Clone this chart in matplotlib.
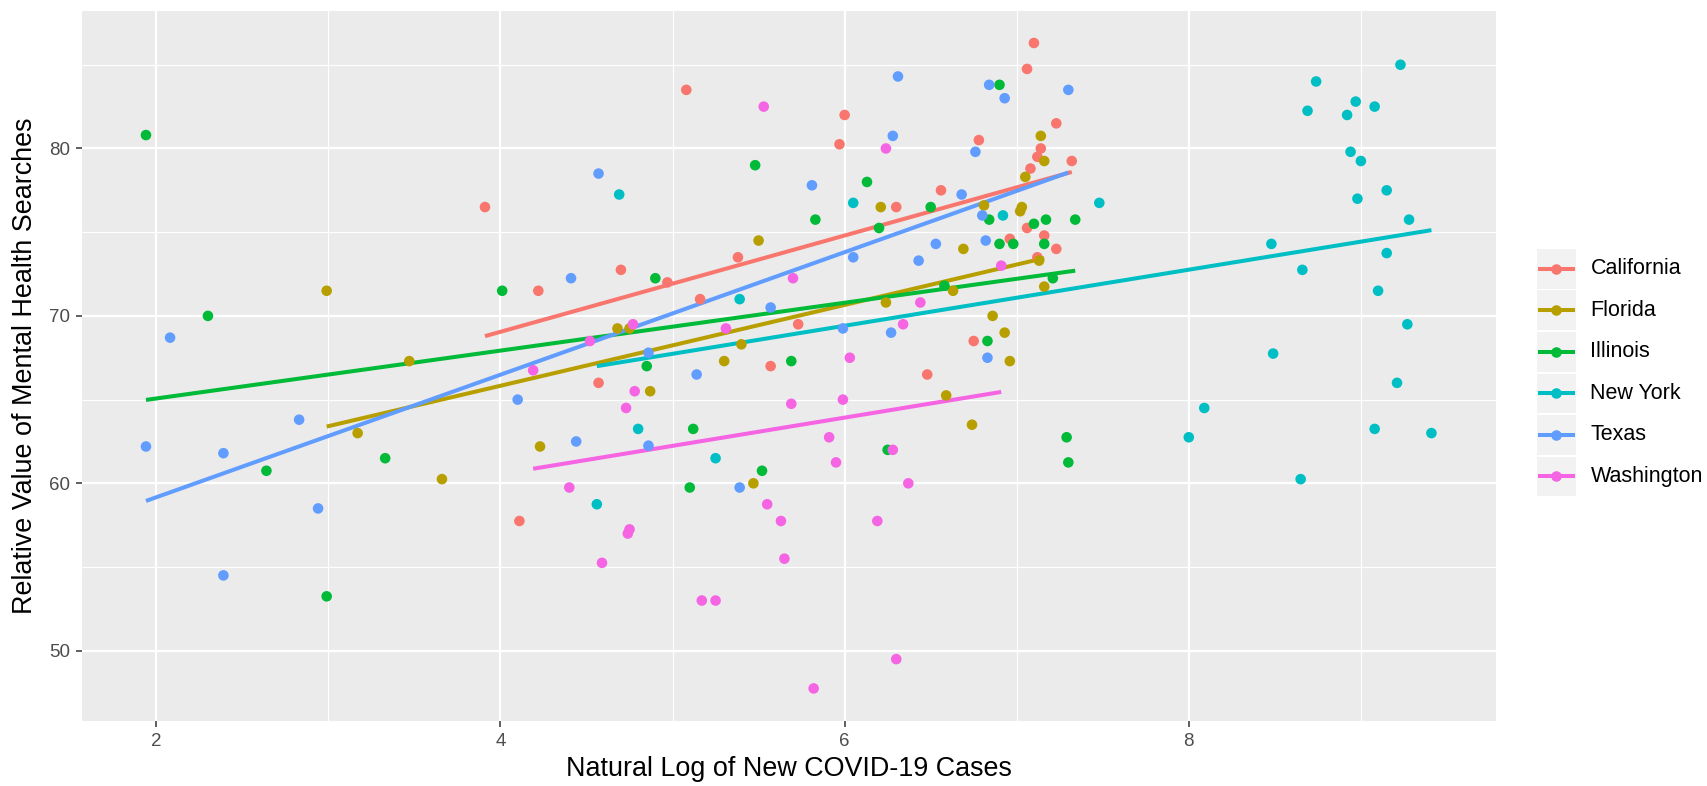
import numpy as np
import matplotlib
matplotlib.use("Agg")
import matplotlib.pyplot as plt
from matplotlib.lines import Line2D
from matplotlib.patches import Rectangle

plt.rcParams['font.family'] = ['Liberation Sans', 'DejaVu Sans']

states = ["California", "Florida", "Illinois", "New York", "Texas", "Washington"]
colors = ["#F8766D", "#B79F00", "#00BA38", "#00BFC4", "#619CFF", "#F564E3"]

california_x = [3.91, 4.22, 4.11, 5.08, 6.00, 6.78, 5.97, 6.56, 6.30, 6.96, 5.38, 4.70, 4.97, 5.16, 5.73,
                6.75, 5.57, 4.57, 6.48, 7.10, 7.06, 7.23, 7.14, 7.12, 7.32, 7.08, 7.06, 7.16, 7.23, 7.12]
california_y = [76.5, 71.5, 57.75, 83.5, 82.0, 80.5, 80.25, 77.5, 76.5, 74.6, 73.5, 72.75, 72.0, 71.0, 69.5,
                68.5, 67.0, 66.0, 66.5, 86.3, 84.75, 81.5, 80.0, 79.5, 79.25, 78.8, 75.25, 74.8, 74.0, 73.5]

florida_x = [2.99, 3.47, 3.17, 4.23, 3.66, 6.21, 6.81, 5.50, 6.69, 6.63, 6.24, 6.86, 4.68, 4.75, 6.93,
             5.40, 5.30, 6.96, 4.87, 6.59, 6.74, 5.47, 7.14, 7.16, 7.05, 7.03, 7.02, 7.13, 7.16]
florida_y = [71.5, 67.3, 63.0, 62.2, 60.25, 76.5, 76.6, 74.5, 74.0, 71.5, 70.8, 70.0, 69.25, 69.25, 69.0,
             68.3, 67.3, 67.3, 65.5, 65.25, 63.5, 60.0, 80.75, 79.25, 78.3, 76.5, 76.25, 73.3, 71.75]

illinois_x = [1.94, 4.01, 2.30, 3.33, 2.64, 2.99, 6.90, 5.48, 6.13, 6.50, 6.84, 5.83, 6.20, 6.90, 6.98, 4.90,
              6.58, 6.83, 5.69, 4.85, 5.12, 6.25, 5.52, 5.10, 7.17, 7.10, 7.34, 7.16, 7.21, 7.29, 7.30]
illinois_y = [80.8, 71.5, 70.0, 61.5, 60.75, 53.25, 83.8, 79.0, 78.0, 76.5, 75.75, 75.75, 75.25, 74.3, 74.3, 72.25,
              71.8, 68.5, 67.3, 67.0, 63.25, 62.0, 60.75, 59.75, 75.75, 75.5, 75.75, 74.3, 72.25, 62.75, 61.25]

newyork_x = [4.69, 6.05, 6.92, 5.39, 4.80, 5.25, 4.56, 7.48, 8.48, 8.66, 9.23, 8.74, 8.69, 8.97, 9.08, 8.92,
             8.94, 9.00, 9.15, 8.98, 9.28, 9.15, 9.10, 9.27, 8.49, 9.21, 8.09, 8.00, 9.08, 9.41, 8.65]
newyork_y = [77.25, 76.75, 76.0, 71.0, 63.25, 61.5, 58.75, 76.75, 74.3, 72.75, 85.0, 84.0, 82.25, 82.8, 82.5, 82.0,
             79.8, 79.25, 77.5, 77.0, 75.75, 73.75, 71.5, 69.5, 67.75, 66.0, 64.5, 62.75, 63.25, 63.0, 60.25]

texas_x = [2.08, 4.10, 2.83, 1.94, 2.39, 2.94, 2.39, 6.31, 6.84, 6.93, 6.28, 6.76, 4.57, 5.81, 6.68, 6.80,
           6.82, 6.53, 6.05, 6.43, 4.41, 5.57, 5.99, 6.27, 4.86, 6.83, 5.14, 4.44, 4.86, 5.39, 7.30]
texas_y = [68.7, 65.0, 63.8, 62.2, 61.8, 58.5, 54.5, 84.3, 83.8, 83.0, 80.75, 79.8, 78.5, 77.8, 77.25, 76.0,
           74.5, 74.3, 73.5, 73.3, 72.25, 70.5, 69.25, 69.0, 67.8, 67.5, 66.5, 62.5, 62.25, 59.75, 83.5]

washington_x = [4.19, 5.53, 6.24, 6.91, 5.70, 5.31, 4.77, 6.34, 6.44, 4.52, 6.03, 4.78, 5.69, 5.99, 4.73, 5.91,
                6.28, 5.95, 4.40, 6.37, 5.55, 5.63, 6.19, 4.75, 4.74, 4.59, 5.65, 5.17, 5.25, 6.30, 5.82]
washington_y = [66.75, 82.5, 80.0, 73.0, 72.25, 69.25, 69.5, 69.5, 70.8, 68.5, 67.5, 65.5, 64.75, 65.0, 64.5, 62.75,
                62.0, 61.25, 59.75, 60.0, 58.75, 57.75, 57.75, 57.25, 57.0, 55.25, 55.5, 53.0, 53.0, 49.5, 47.75]

xs = [california_x, florida_x, illinois_x, newyork_x, texas_x, washington_x]
ys = [california_y, florida_y, illinois_y, newyork_y, texas_y, washington_y]

x_ticks = [2, 4, 6, 8]
y_ticks = [50, 60, 70, 80]

W, H = 1707, 786
fig = plt.figure(figsize=(W / 100, H / 100), dpi=100)

def fx(px):
    return px / W

def fy(py):
    return 1 - py / H

ax = fig.add_axes([fx(81.7), fy(720.7), fx(1495.7) - fx(81.7), fy(10.7) - fy(720.7)])
ax.set_facecolor("#EBEBEB")
for s in ax.spines.values():
    s.set_visible(False)

for x, y, c in zip(xs, ys, colors):
    x = np.asarray(x)
    y = np.asarray(y)
    k, b = np.polyfit(x, y, 1)
    xx = np.array([x.min(), x.max()])
    ax.plot(xx, k * xx + b, color=c, lw=2.9, zorder=3, solid_capstyle='butt')
for x, y, c in zip(xs, ys, colors):
    ax.scatter(x, y, s=58, color=c, edgecolors='none', zorder=4)

allx = np.concatenate([np.asarray(v) for v in xs])
ally = np.concatenate([np.asarray(v) for v in ys])
rx = allx.max() - allx.min()
ry = ally.max() - ally.min()
ax.set_xlim(allx.min() - 0.05 * rx, allx.max() + 0.05 * rx)
ax.set_ylim(ally.min() - 0.05 * ry, ally.max() + 0.05 * ry)

ax.set_xticks(x_ticks)
ax.set_yticks(y_ticks)
ax.set_xticks([3, 5, 7, 9], minor=True)
ax.set_yticks([55, 65, 75, 85], minor=True)
ax.grid(which='major', color='white', lw=1.6, zorder=0)
ax.grid(which='minor', color='white', lw=0.8, zorder=0)
ax.set_axisbelow(True)
ax.tick_params(which='major', length=4.5, width=1.1, color='#333333', labelcolor='#4D4D4D',
               labelsize=13.5, pad=4)
ax.tick_params(which='minor', length=0)

ax.set_xlabel("Natural Log of New COVID-19 Cases", fontsize=19.4, color='black', labelpad=5)
ax.set_ylabel("Relative Value of Mental Health Searches", fontsize=19.4, color='black', labelpad=8)

# legend (ggplot-style keys)
key_left, key_w = 1536.5, 39.5
top0, step, key_h = 249.0, 41.5, 39.5
for i, (name, c) in enumerate(zip(states, colors)):
    t = top0 + i * step
    fig.add_artist(Rectangle((fx(key_left), fy(t + key_h)), fx(key_w), key_h / H,
                             transform=fig.transFigure, facecolor='#F2F2F2', edgecolor='none'))
    cy = fy(t + key_h / 2)
    fig.add_artist(Line2D([fx(1539.5), fx(1573)], [cy, cy], transform=fig.transFigure,
                          color=c, lw=2.9))
    fig.add_artist(Line2D([fx(1556.3)], [cy], transform=fig.transFigure, color=c,
                          marker='o', markersize=7.6, markeredgewidth=0))
    fig.text(fx(1590.5), cy, name, fontsize=15.5, color='black', va='center', ha='left')

fig.savefig("out.png", dpi=100)
